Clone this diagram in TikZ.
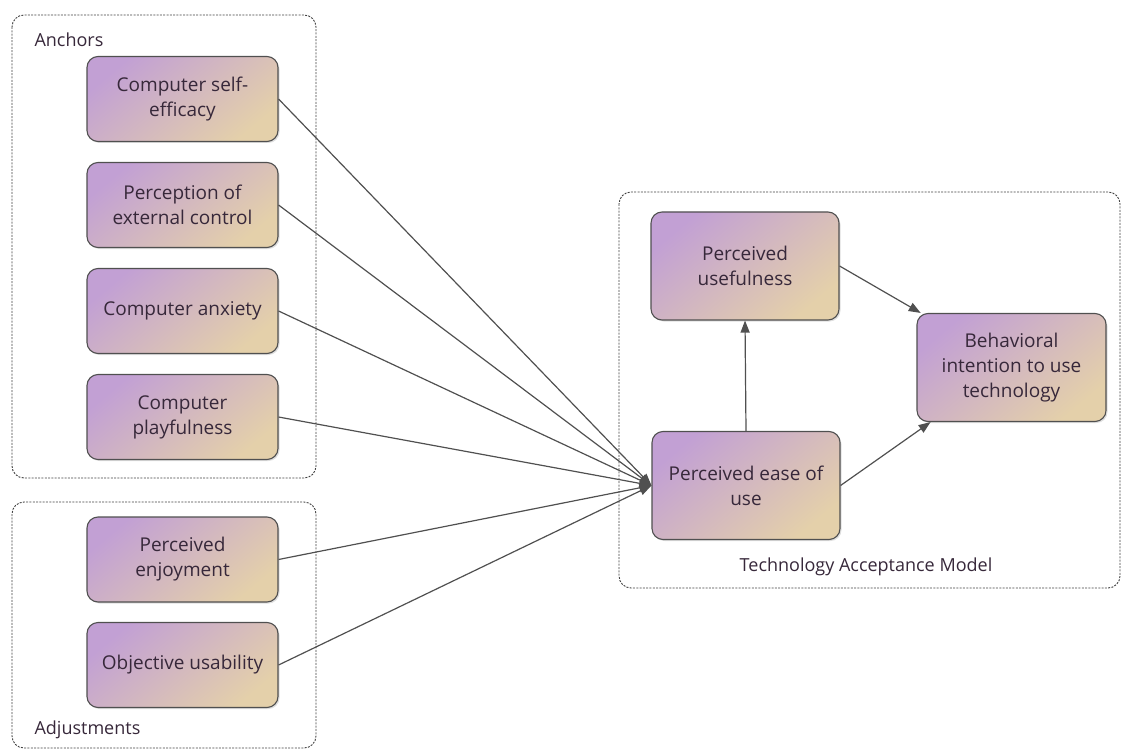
\documentclass[tikz,border=0pt]{standalone}
\usepackage{fontspec}
\setmainfont{Open Sans}
\usetikzlibrary{arrows.meta,shadows}
\definecolor{boxlilac}{RGB}{194,160,212}
\definecolor{boxsand}{RGB}{228,208,170}
\definecolor{boxtext}{RGB}{55,40,58}
\definecolor{edgegray}{RGB}{80,80,80}

\begin{document}
\begin{tikzpicture}[x=1pt, y=-1pt,
    factor/.style={draw=edgegray, line width=1.1pt, rounded corners=11pt,
      top color=boxlilac, middle color=boxlilac!78!boxsand, bottom color=boxsand, shading angle=40,
      drop shadow={shadow xshift=1.5pt, shadow yshift=-1.5pt, opacity=0.25},
      minimum width=191pt, minimum height=85pt, align=center, text=boxtext,
      font=\fontsize{19}{25}\selectfont},
    tamfactor/.style={factor, minimum width=188pt, minimum height=108pt},
    group/.style={draw=black!75, line width=0.9pt, dash pattern=on 2pt off 1.3pt, rounded corners=12pt},
    grouplabel/.style={text=boxtext, font=\fontsize{18}{22}\selectfont},
    link/.style={draw=edgegray, line width=1.2pt, -{Triangle[length=12pt,width=9pt]}}]
    \useasboundingbox (0,0) rectangle (1123,751);
    \draw [group] (12,15) rectangle (316,478);
    \draw [group] (12,502) rectangle (316,748);
    \draw [group] (619,192) rectangle (1120,588);
    \node [grouplabel, anchor=west] (anc) at (31,40) {Anchors};
    \node [grouplabel, anchor=west] (adj) at (31,730) {Adjustments};
    \node [grouplabel] (tam) at (866,567) {Technology Acceptance Model};
    \node [factor] (cse) at (182.5,99) {Computer self-\\efficacy};
    \node [factor] (pec) at (182.5,205) {Perception of\\external control};
    \node [factor] (ca) at (182.5,311) {Computer anxiety};
    \node [factor] (cp) at (182.5,417) {Computer\\playfulness};
    \node [factor] (pe) at (182.5,559.5) {Perceived\\enjoyment};
    \node [factor] (ou) at (182.5,665) {Objective usability};
    \node [tamfactor] (pu) at (745,266) {Perceived\\usefulness};
    \node [tamfactor] (peou) at (746,485.5) {Perceived ease of\\use};
    \node [tamfactor, minimum width=189pt] (bi) at (1011.5,367.5) {Behavioral\\intention to use\\technology};
    \draw [link] (cse.east) -- (peou.west);
    \draw [link] (pec.east) -- (peou.west);
    \draw [link] (ca.east) -- (peou.west);
    \draw [link] (cp.east) -- (peou.west);
    \draw [link] (pe.east) -- (peou.west);
    \draw [link] (ou.east) -- (peou.west);
    \draw [link] (peou.north) -- (pu.south);
    \draw [link] (pu.east) -- (bi.149);
    \draw [link] (peou.east) -- (bi.214);
\end{tikzpicture}
\end{document}
